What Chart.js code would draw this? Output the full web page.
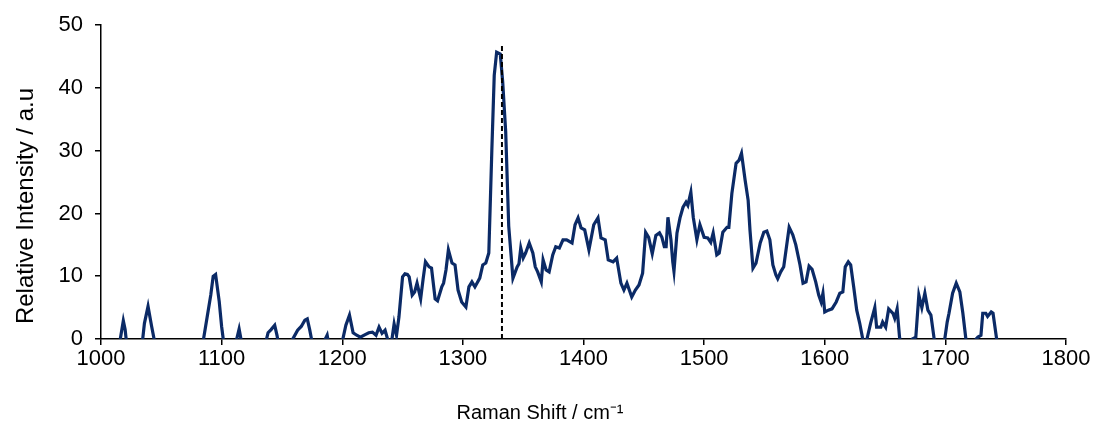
<!DOCTYPE html>
<html>
<head>
<meta charset="utf-8">
<title>Raman spectrum</title>
<script src="https://cdn.jsdelivr.net/npm/chart.js@4/dist/chart.umd.min.js"></script>
<style>
  html, body { margin: 0; padding: 0; background: #fff; }
  #wrap { width: 1097px; height: 425px; }
</style>
</head>
<body>
<div id="wrap"><canvas id="ramanChart" width="1097" height="425"></canvas></div>
<script>
// Raman shift (cm-1) and relative intensity
const shift = [
  1008, 1014, 1016, 1018.5, 1020, 1022, 1030, 1034, 1036, 1039, 1042, 1045, 1050,
  1080, 1085, 1088, 1091, 1093, 1095, 1098, 1100, 1102, 1108, 1112.5, 1114.5, 1116.5,
  1125, 1136, 1138.5, 1141, 1144, 1146, 1148, 1155, 1159, 1163, 1166, 1169, 1171, 1173,
  1175, 1180, 1186, 1187.5, 1189, 1195, 1200.5, 1203, 1206, 1209, 1212, 1215, 1219, 1222,
  1225, 1228, 1230.5, 1233, 1235.5, 1238, 1241, 1243, 1245, 1247, 1250, 1252, 1254, 1255.5,
  1258, 1260, 1262, 1265, 1267, 1269, 1272, 1274, 1277, 1279, 1282.5, 1284, 1286, 1288,
  1291, 1293.5, 1296, 1299, 1302.5, 1305, 1307.5, 1310, 1314, 1316.5, 1319, 1321.5, 1324,
  1326, 1328, 1331, 1333, 1335.5, 1338, 1341.5, 1345, 1346.5, 1348, 1350, 1352, 1355, 1358,
  1360, 1362, 1365, 1366.5, 1369, 1371.5, 1374.5, 1377, 1380, 1383, 1386, 1390.5, 1393,
  1395.5, 1398, 1401, 1404.5, 1408.5, 1412, 1414.5, 1418, 1420.5, 1424.5, 1427.5, 1431,
  1433.5, 1436, 1440, 1443, 1446, 1449, 1451.5, 1454, 1457, 1460, 1463, 1465, 1467, 1468.5,
  1470, 1472.5, 1474, 1475, 1477.5, 1480, 1482.5, 1485, 1486.5, 1489, 1491, 1494, 1496.5,
  1500, 1503, 1505.5, 1507.5, 1510.5, 1512.5, 1515.5, 1519, 1520.5, 1523, 1526.5, 1529,
  1531, 1534, 1536.5, 1538, 1540.5, 1543, 1546.5, 1549.5, 1552, 1554.5, 1557, 1559.5, 1561,
  1563.5, 1566, 1570.5, 1573.5, 1576, 1579.5, 1582, 1584.5, 1587, 1589.5, 1592.5, 1595,
  1597, 1598.5, 1600, 1603, 1606, 1609.5, 1612.5, 1615, 1617, 1619.5, 1621.5, 1624, 1626.5,
  1629, 1631.5, 1633.5, 1635, 1638, 1641.5, 1643, 1646.5, 1648, 1650.5, 1653, 1656.5, 1658,
  1660, 1662, 1664, 1670, 1672.5, 1675.5, 1678, 1680.5, 1683, 1685.5, 1688, 1690.5, 1692,
  1698, 1699.5, 1701.5, 1703, 1706, 1709, 1712, 1714.5, 1717, 1718.5, 1724, 1725.5, 1727,
  1729.5, 1731, 1733.5, 1735, 1738, 1739.5, 1742.5, 1744
];
const intensity = [
  -4, -2, 0, 2.9, 1.5, -2, -4, -1, 2.5, 5.2, 2, -1, -4,
  -4, 0, 3.5, 7, 10, 10.3, 6, 2, -1, -3, 0, 1.6, -0.5,
  -3, -1, 1, 1.5, 2.2, 0.5, -2, -2, 0, 1.4, 2, 3, 3.2, 1.5,
  -0.5, -3, 0, 0.6, -1, -3, 0, 2.2, 3.8, 1, 0.6, 0.3, 0.7, 1.0,
  1.1, 0.6, 1.9, 0.9, 1.4, -0.3, -0.3, 2.4, 0.6, 3.5, 9.9, 10.4, 10.3, 9.9,
  7.0, 7.5, 8.9, 6.4, 9.5, 12.3, 11.5, 11.3, 6.4, 6.1, 8.3, 8.9, 11, 14.2,
  12.1, 11.8, 7.8, 5.9, 5.1, 8.3, 9.1, 8.3, 9.7, 11.8, 12.1, 13.7, 30,
  42, 45.7, 45.4, 41, 33, 18, 9.7, 11.5, 12, 14.5, 12.9, 13.7, 15.3, 13.7,
  11.5, 10.7, 9.1, 12.6, 11, 10.7, 13.4, 14.7, 14.5, 15.8, 15.8, 15.3, 18.2,
  19.3, 17.7, 17.4, 14.2, 18.2, 19.3, 16.1, 15.8, 12.6, 12.3, 12.9, 8.9,
  7.8, 8.9, 6.7, 7.8, 8.6, 10.5, 17, 16.2, 13.6, 16.5, 16.9, 16.2, 14.7, 14.7,
  19.4, 15.8, 12.3, 10.8, 16.9, 19.3, 21, 21.8, 21.3, 23.4, 19.4, 15.8, 18.2,
  16.2, 16.1, 15.4, 16.9, 13.4, 13.7, 17, 17.8, 17.8, 23.2, 28, 28.5,
  29.6, 25.3, 22.1, 17.4, 11.3, 12.1, 15.3, 17, 17.2, 15.8, 11.8, 10.2, 9.6,
  10.7, 11.5, 17.8, 16.6, 15, 11.8, 8.9, 9.1, 11.6, 11.1, 9.1, 7.0,
  5.9, 7.3, 4.3, 4.6, 4.8, 5.9, 7.3, 7.5, 11.5, 12.3, 11.8, 8.3, 4.6,
  2.5, 0, -1, 0, 2.5, 5, 1.9, 1.9, 2.7, 1.9, 4.8, 4.1, 3.3,
  4.8, 0.3, -2, -2, 0, 0.3, 7.0, 5, 7.3, 4.6, 3.8, 0.3, -2,
  -2, 0, 2.7, 4.1, 7.3, 8.9, 7.5, 4.1, 0, -2, -2, 0, 0.3,
  0.6, 4.1, 4.1, 3.6, 4.3, 4.1, 0, -2
];
// marker line at the main band
const markerShift = 1332.4;
const markerRange = [0, 47];

const xTicks = [1000, 1100, 1200, 1300, 1400, 1500, 1600, 1700, 1800];
const yTicks = [0, 10, 20, 30, 40, 50];
const xTitle = 'Raman Shift / cm\u207B\u00B9';
const yTitle = 'Relative Intensity / a.u';

const FONT = '"Liberation Sans", Arial, sans-serif';

// axis titles sit off-centre in the original, so draw them by hand
const axisTitles = {
    id: 'axisTitles',
    afterDraw(chart) {
        const c = chart.ctx;
        c.save();
        c.fillStyle = '#000';
        c.textAlign = 'center';
        c.textBaseline = 'middle';
        c.font = '20px ' + FONT;
        c.fillText(xTitle, 540, 413);
        c.translate(26, 206);
        c.rotate(-Math.PI / 2);
        c.font = '24px ' + FONT;
        c.fillText(yTitle, 0, 0);
        c.restore();
    }
};

document.addEventListener('DOMContentLoaded', () => {
    const ctx = document.getElementById('ramanChart').getContext('2d');
    const spectrum = shift.map((s, i) => ({ x: s, y: intensity[i] }));
    const marker = markerRange.map(v => ({ x: markerShift, y: v }));

    new Chart(ctx, {
        type: 'scatter',
        data: {
            datasets: [
                {
                    data: marker,
                    showLine: true,
                    borderColor: '#000',
                    borderWidth: 2,
                    borderDash: [5, 3],
                    pointRadius: 0,
                    order: 0
                },
                {
                    data: spectrum,
                    showLine: true,
                    borderColor: '#0b2a66',
                    borderWidth: 3.2,
                    pointRadius: 0,
                    tension: 0,
                    clip: 0,
                    order: 1
                }
            ]
        },
        options: {
            responsive: false,
            animation: false,
            layout: { padding: { top: 25, right: 31, left: 0, bottom: 0 } },
            plugins: { legend: { display: false }, tooltip: { enabled: false } },
            scales: {
                x: {
                    type: 'linear',
                    min: 1000, max: 1800,
                    afterBuildTicks: s => { s.ticks = xTicks.map(v => ({ value: v })); },
                    afterFit: s => { s.height = 86; },
                    border: { display: true, color: '#000', width: 1.5 },
                    grid: { drawOnChartArea: false, drawTicks: true, tickLength: 6, color: '#000', lineWidth: 1.5 },
                    ticks: {
                        color: '#000',
                        font: { family: FONT, size: 22 },
                        padding: 1,
                        maxRotation: 0,
                        callback: v => String(v)
                    }
                },
                y: {
                    min: 0, max: 50,
                    afterBuildTicks: s => { s.ticks = yTicks.map(v => ({ value: v })); },
                    afterFit: s => { s.width = 101; },
                    border: { display: true, color: '#000', width: 1.5 },
                    grid: { drawOnChartArea: false, drawTicks: true, tickLength: 6, color: '#000', lineWidth: 1.5 },
                    ticks: {
                        color: '#000',
                        font: { family: FONT, size: 22 },
                        padding: 12,
                        callback: v => String(v)
                    }
                }
            }
        },
        plugins: [axisTitles]
    });
});
</script>
</body>
</html>
